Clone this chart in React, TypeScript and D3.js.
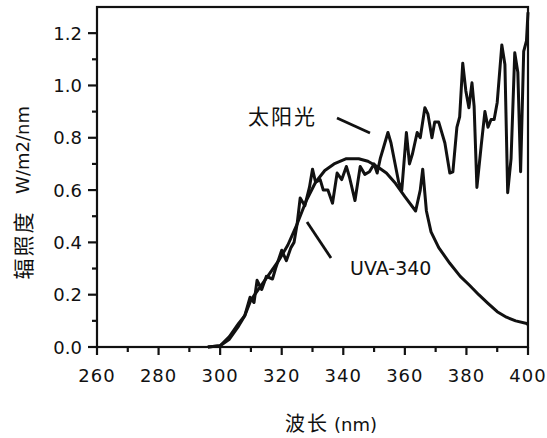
import React from "react";
import * as d3 from "d3";

// wavelength (nm) and irradiance (W/m2/nm)
const sunNm = [296, 300, 303, 306, 308, 309.7, 311, 312, 313.5, 315, 317, 318, 320, 321.5, 323, 324, 325, 326, 327.5, 329, 330, 331, 332.5, 333.5, 335, 336.5, 338, 339.5, 341, 342, 343.8, 345.5, 347, 348.5, 350, 351, 352, 353, 354.5, 355.5, 356.5, 358, 359, 360.5, 361.5, 362.5, 364, 365, 366.5, 367.5, 368.8, 369.7, 371, 373, 374.6, 375.6, 376.9, 377.8, 378.8, 379.8, 380.8, 381.8, 382.5, 383.4, 384.8, 386, 387, 388, 389, 390, 391.5, 392.5, 393.4, 394.5, 395.7, 396.7, 397.6, 398.6, 399.5, 400];
const sunVal = [0, 0.005, 0.04, 0.09, 0.12, 0.19, 0.17, 0.255, 0.22, 0.27, 0.26, 0.3, 0.37, 0.33, 0.38, 0.4, 0.47, 0.57, 0.54, 0.61, 0.68, 0.63, 0.64, 0.6, 0.6, 0.55, 0.665, 0.64, 0.69, 0.65, 0.56, 0.69, 0.66, 0.67, 0.7, 0.665, 0.72, 0.76, 0.82, 0.78, 0.72, 0.63, 0.6, 0.82, 0.7, 0.74, 0.82, 0.8, 0.915, 0.89, 0.8, 0.86, 0.86, 0.78, 0.665, 0.67, 0.84, 0.88, 1.085, 0.98, 0.915, 1.01, 0.92, 0.61, 0.77, 0.9, 0.84, 0.87, 0.87, 0.935, 1.155, 1.08, 0.59, 0.72, 1.125, 1.05, 0.67, 1.13, 1.17, 1.28];

const uvaNm = [296, 300, 303, 306, 308, 310, 313, 316, 319, 322, 325, 328, 331, 334, 337, 341, 345, 348, 351, 354, 357, 360, 363.5, 365, 365.8, 367, 368.5, 371, 374.6, 378, 381, 384, 387, 390, 393, 396, 399.6, 400];
const uvaVal = [0, 0.005, 0.03, 0.08, 0.12, 0.18, 0.23, 0.28, 0.33, 0.39, 0.47, 0.56, 0.63, 0.675, 0.7, 0.72, 0.72, 0.71, 0.69, 0.665, 0.625, 0.575, 0.52, 0.6, 0.68, 0.52, 0.44, 0.38, 0.32, 0.27, 0.236, 0.2, 0.167, 0.135, 0.114, 0.1, 0.09, 0.085];

const xTicks = [260, 280, 300, 320, 340, 360, 380, 400];
const yTicks = [0, 0.2, 0.4, 0.6, 0.8, 1.0, 1.2];

export default function App() {
  const left = 97, right = 528, top = 7, bottom = 347;
  const x = d3.scaleLinear().domain([260, 400]).range([left, right]);
  const y = d3.scaleLinear().domain([0, 1.3]).range([bottom, top]);

  const line = d3.line<[number, number]>()
    .x(d => x(d[0]))
    .y(d => y(d[1]));

  const sun = sunNm.map((n, i) => [n, sunVal[i]] as [number, number]);
  const uva = uvaNm.map((n, i) => [n, uvaVal[i]] as [number, number]);

  const xMinor = d3.range(270, 400, 20);
  const yMinor = d3.range(0.1, 1.3, 0.2);

  const ink = "#111";
  const font = "'DejaVu Sans', sans-serif";
  const cjk = "'Noto Sans CJK SC', sans-serif";

  return (
    <svg width={547} height={438} style={{ position: "absolute", left: 0, top: 0, background: "#fff" }}>
      {/* frame */}
      <rect x={left} y={top} width={right - left} height={bottom - top} fill="none" stroke={ink} strokeWidth={2.2} />

      {/* y ticks */}
      {yTicks.map(t => (
        <g key={"y" + t}>
          <line x1={left - 9} x2={left} y1={y(t)} y2={y(t)} stroke={ink} strokeWidth={2.2} />
          <text x={left - 15} y={y(t) + 6.5} textAnchor="end" fontFamily={font} fontSize={18} fill="#111">{t.toFixed(1)}</text>
        </g>
      ))}
      {yMinor.map(t => (
        <line key={"ym" + t} x1={left - 5} x2={left} y1={y(t)} y2={y(t)} stroke={ink} strokeWidth={2.2} />
      ))}

      {/* x ticks */}
      {xTicks.map(t => (
        <g key={"x" + t}>
          <line x1={x(t)} x2={x(t)} y1={bottom} y2={bottom + 8} stroke={ink} strokeWidth={2.2} />
          <text x={x(t)} y={382} textAnchor="middle" fontFamily={font} fontSize={18} letterSpacing={1} fill="#111">{t}</text>
        </g>
      ))}
      {xMinor.map(t => (
        <line key={"xm" + t} x1={x(t)} x2={x(t)} y1={bottom} y2={bottom + 5} stroke={ink} strokeWidth={2.2} />
      ))}

      {/* curves */}
      <path d={line(uva) || ""} fill="none" stroke={ink} strokeWidth={3} strokeLinejoin="round" />
      <path d={line(sun) || ""} fill="none" stroke={ink} strokeWidth={3} strokeLinejoin="round" />

      {/* annotations */}
      <text x={248} y={124} fontFamily={cjk} fontSize={21} letterSpacing={2} fill="#111">太阳光</text>
      <line x1={337} y1={118} x2={370} y2={133} stroke={ink} strokeWidth={2.8} />
      <text x={350} y={275} fontFamily={font} fontSize={19} fill="#111">UVA-340</text>
      <line x1={307} y1={222} x2={331} y2={258} stroke={ink} strokeWidth={2.8} />

      {/* axis titles */}
      <text transform="translate(31,245) rotate(-90)" textAnchor="middle" fontFamily={cjk} fontSize={21} letterSpacing={2} fill="#111">辐照度</text>
      <text transform="translate(29,150) rotate(-90)" textAnchor="middle" fontFamily={font} fontSize={18} fill="#111">W/m2/nm</text>
      <text x={285} y={431} fontFamily={cjk} fontSize={20} letterSpacing={2} fill="#111">波长</text>
      <text x={334} y={431} fontFamily={font} fontSize={18} fill="#111">(nm)</text>
    </svg>
  );
}
